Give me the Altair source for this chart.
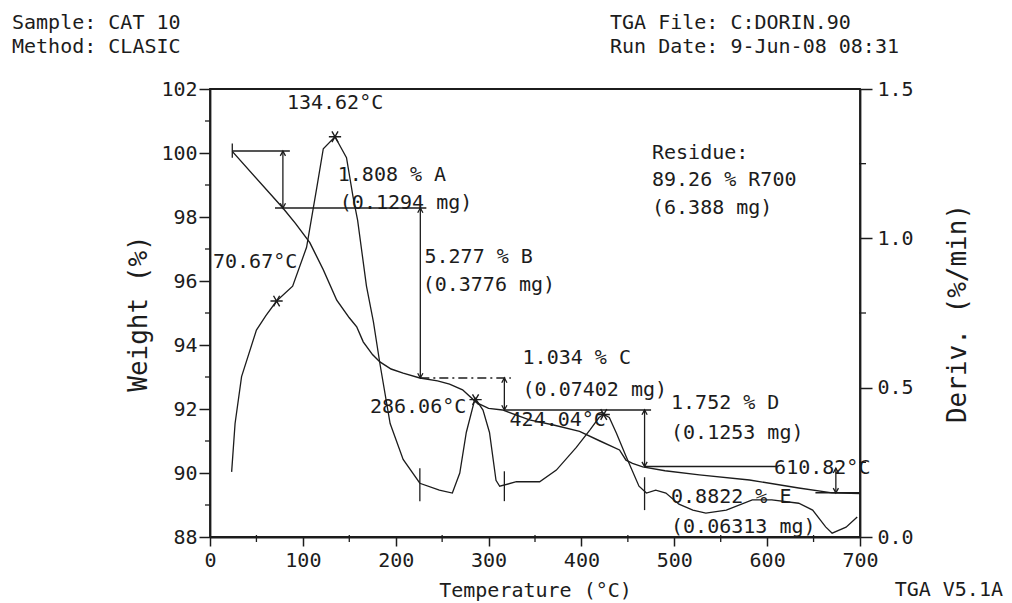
import altair as alt
import pandas as pd

# ---------------- data ----------------
temp_weight = [24, 78.5, 92, 107.5, 122, 136.5, 150, 158, 165, 175,
               183, 195, 208, 226, 245, 258, 272, 287, 300, 315,
               344, 370, 398, 420, 441, 448, 455, 466, 490, 527,
               581, 634, 670, 700]
weight_pct = [100.05, 98.28, 97.8, 97.2, 96.35, 95.4, 94.85, 94.57, 94.1, 93.7,
              93.47, 93.25, 93.12, 92.97, 92.88, 92.78, 92.6, 92.2, 92.02, 91.97,
              91.66, 91.5, 91.3, 91.0, 90.72, 90.4, 90.3, 90.19, 90.07, 89.94,
              89.78, 89.53, 89.38, 89.36]

temp_deriv = [23.3, 27, 34, 50, 60, 71.7, 89, 104, 115, 122,
              134.6, 147, 154, 159, 168.5, 176, 183, 194, 208, 226,
              247, 261, 269, 276, 285.5, 294, 301, 308, 312, 330,
              355, 373, 394.5, 409, 419, 424, 430, 437.6, 448, 462,
              470, 480, 491, 505, 520, 534, 556, 584, 605, 634,
              649, 663, 670, 685, 697]
deriv_val = [0.218, 0.38, 0.537, 0.693, 0.74, 0.79, 0.84, 0.97, 1.17, 1.30,
             1.34, 1.27, 1.14, 1.06, 0.84, 0.72, 0.58, 0.38, 0.26, 0.18,
             0.157, 0.147, 0.214, 0.35, 0.465, 0.425, 0.35, 0.19, 0.17, 0.185,
             0.185, 0.224, 0.30, 0.358, 0.40, 0.41, 0.40, 0.348, 0.27, 0.17,
             0.147, 0.157, 0.147, 0.11, 0.09, 0.08, 0.09, 0.124, 0.124, 0.113,
             0.09, 0.034, 0.013, 0.033, 0.067]

# step-analysis construction lines (weight coordinates)
hline_t1 = [24, 70, 317, 468, 652]
hline_t2 = [86, 233, 475, 609.5, 700]
hline_w = [100.06, 98.28, 91.97, 90.2, 89.38]
dash_t1 = [226.5]
dash_t2 = [324]
dash_w = [92.97]

arrow_t = [78.5, 226.5, 317, 468, 674]
arrow_top = [100.06, 98.28, 92.97, 91.97, 90.15]
arrow_bot = [98.28, 92.97, 91.97, 90.2, 89.38]

# small tick marks
mark_t = [24]
mark_w1 = [100.3]
mark_w2 = [99.85]
dtick_t = [226, 317, 468]
dtick_d1 = [0.12, 0.12, 0.09]
dtick_d2 = [0.23, 0.22, 0.20]

# peak markers on derivative curve
peak_t = [71.7, 134.6, 286, 424]
peak_d = [0.79, 1.34, 0.46, 0.41]

label_text = ["134.62°C", "1.808 % A", "(0.1294 mg)", "70.67°C", "5.277 % B",
              "(0.3776 mg)", "Residue:", "89.26 % R700", "(6.388 mg)",
              "1.034 % C", "(0.07402 mg)", "424.04°C", "1.752 % D",
              "(0.1253 mg)", "610.82°C", "0.8822 % E", "(0.06313 mg)"]
label_t = [82.8, 137.6, 139.8, 3.2, 231, 229, 476, 476, 476,
           336.6, 336.6, 322.6, 496.5, 496.5, 607.5, 496.5, 496.5]
label_w = [101.56, 99.31, 98.44, 96.59, 96.75, 95.875, 100.0, 99.16, 98.28,
           93.59, 92.6, 91.66, 92.19, 91.25, 90.16, 89.25, 88.31]
rlabel_text = ["286.06°C"]
rlabel_t = [276]
rlabel_w = [92.06]

x_ticks = [0, 100, 200, 300, 400, 500, 600, 700]
x_minor = [50, 150, 250, 350, 450, 550, 650]
w_ticks = [88, 90, 92, 94, 96, 98, 100, 102]
w_minor = [89, 91, 93, 95, 97, 99, 101]
d_ticks = [0.0, 0.5, 1.0, 1.5]
d_minor = [0.25, 0.75, 1.25]

# ---------------- styling ----------------
FONT = "DejaVu Sans Mono"
INK = "#1c1c1c"
W, H = 650, 448

xs = alt.Scale(domain=[0, 700], nice=False, zero=False)
yw = alt.Scale(domain=[88, 102], nice=False, zero=False)
yd = alt.Scale(domain=[0, 1.5], nice=False, zero=False)

ARROW_UP = "M-0.55,1L0,0L0.55,1"
ARROW_DN = "M-0.55,-1L0,0L0.55,-1"
STAR = "M-1,0L1,0M-0.5,-0.87L0.5,0.87M-0.5,0.87L0.5,-0.87"

X_AXIS = alt.Axis(values=x_ticks, title="Temperature (°C)", format="d",
                  tickSize=9, labelPadding=4, titlePadding=10, titleFontSize=20,
                  labelFontSize=20)
W_AXIS = alt.Axis(values=w_ticks, title="Weight (%)", format="d",
                  tickSize=11, labelPadding=2, labelFontSize=20,
                  titleFontSize=26, titleAngle=270, titleX=-72, titleY=H / 2,
                  titleAlign="center", titleBaseline="middle")
D_AXIS = alt.Axis(orient="right", values=d_ticks, format=".1f", title="Deriv. (%/min)",
                  tickSize=12, labelPadding=5, labelFontSize=20,
                  titleFontSize=26, titleAngle=270, titleX=97, titleY=H / 2,
                  titleAlign="center", titleBaseline="middle")


def xq(field):
    return alt.X(field, type="quantitative", scale=xs, axis=X_AXIS)


def wq(field):
    return alt.Y(field, type="quantitative", scale=yw, axis=W_AXIS)


def dq(field):
    return alt.Y(field, type="quantitative", scale=yd, axis=D_AXIS)


# ---------------- weight (left axis) layers ----------------
wdf = pd.DataFrame({"T": temp_weight, "W": weight_pct})
weight_line = alt.Chart(wdf).mark_line(color=INK, strokeWidth=1.4).encode(
    x=xq("T"), y=wq("W"))

hdf = pd.DataFrame({"T": hline_t1, "T2": hline_t2, "W": hline_w})
hlines = alt.Chart(hdf).mark_rule(color=INK, strokeWidth=1.5).encode(
    x=xq("T"), x2="T2:Q", y=wq("W"))

ddash = pd.DataFrame({"T": dash_t1, "T2": dash_t2, "W": dash_w})
dlines = alt.Chart(ddash).mark_rule(color=INK, strokeWidth=1.5, strokeDash=[9, 4, 2, 4]).encode(
    x=xq("T"), x2="T2:Q", y=wq("W"))

adf = pd.DataFrame({"T": arrow_t, "W": arrow_top, "W2": arrow_bot})
arrows = alt.Chart(adf).mark_rule(color=INK, strokeWidth=1.3).encode(
    x=xq("T"), y=wq("W"), y2="W2:Q")
heads_up = alt.Chart(adf).mark_point(shape=ARROW_UP, size=90, color=INK, strokeWidth=1.3, opacity=1).encode(
    x=xq("T"), y=wq("W"))
adf2 = pd.DataFrame({"T": arrow_t, "W": arrow_bot})
heads_dn = alt.Chart(adf2).mark_point(shape=ARROW_DN, size=90, color=INK, strokeWidth=1.3, opacity=1).encode(
    x=xq("T"), y=wq("W"))

mdf = pd.DataFrame({"T": mark_t, "W": mark_w1, "W2": mark_w2})
start_mark = alt.Chart(mdf).mark_rule(color=INK, strokeWidth=1.3).encode(
    x=xq("T"), y=wq("W"), y2="W2:Q")

ldf = pd.DataFrame({"txt": label_text, "T": label_t, "W": label_w})
labels = alt.Chart(ldf).mark_text(align="left", baseline="middle", font=FONT,
                                  fontSize=20, color=INK).encode(
    x=xq("T"), y=wq("W"), text="txt:N")
rdf = pd.DataFrame({"txt": rlabel_text, "T": rlabel_t, "W": rlabel_w})
rlabels = alt.Chart(rdf).mark_text(align="right", baseline="middle", font=FONT,
                                   fontSize=20, color=INK).encode(
    x=xq("T"), y=wq("W"), text="txt:N")

xm = pd.DataFrame({"T": x_minor})
x_minor_ticks = alt.Chart(xm).mark_rule(color=INK, strokeWidth=1.3).encode(
    x=xq("T"), y=alt.value(H - 2), y2=alt.value(H + 5))
wm = pd.DataFrame({"W": w_minor})
w_minor_ticks = alt.Chart(wm).mark_rule(color=INK, strokeWidth=1.3).encode(
    y=wq("W"), x=alt.value(-5), x2=alt.value(1))


def header(txt, px, py, align="left"):
    return alt.Chart(pd.DataFrame({"txt": [txt]})).mark_text(
        align=align, baseline="middle", font=FONT, fontSize=20, color=INK).encode(
        x=alt.value(px), y=alt.value(py), text="txt:N")


headers = [
    header("Sample: CAT 10", -198, -66),
    header("Method: CLASIC", -198, -42),
    header("TGA File: C:DORIN.90", 400, -66),
    header("Run Date: 9-Jun-08  08:31", 400, -42),
    header("TGA V5.1A", 793, 501, "right"),
]

left = alt.layer(weight_line, hlines, dlines, arrows, heads_up, heads_dn, start_mark,
                 labels, rlabels, x_minor_ticks, w_minor_ticks, *headers)

# ---------------- derivative (right axis) layers ----------------
ddf = pd.DataFrame({"T": temp_deriv, "D": deriv_val})
deriv_line = alt.Chart(ddf).mark_line(color=INK, strokeWidth=1.3).encode(
    x=xq("T"), y=dq("D"))
pdf = pd.DataFrame({"T": peak_t, "D": peak_d})
peaks = alt.Chart(pdf).mark_point(shape=STAR, size=150, color=INK, strokeWidth=1.4, opacity=1).encode(
    x=xq("T"), y=dq("D"))
dt = pd.DataFrame({"T": dtick_t, "D": dtick_d1, "D2": dtick_d2})
dticks = alt.Chart(dt).mark_rule(color=INK, strokeWidth=1.3).encode(
    x=xq("T"), y=dq("D"), y2="D2:Q")
dm = pd.DataFrame({"D": d_minor})
d_minor_ticks = alt.Chart(dm).mark_rule(color=INK, strokeWidth=1.3).encode(
    y=dq("D"), x=alt.value(W - 1), x2=alt.value(W + 6))

right = alt.layer(deriv_line, peaks, dticks, d_minor_ticks)

chart = alt.layer(left, right).resolve_scale(y="independent").properties(
    width=W, height=H,
    padding={"left": 210, "top": 89, "right": 152, "bottom": 66},
    autosize=alt.AutoSizeParams(type="none"),
    background="white",
).configure_view(
    stroke=INK, strokeWidth=1.8
).configure_axis(
    grid=False, domainColor=INK, domainWidth=1.8, tickColor=INK, tickWidth=1.5,
    labelColor=INK, titleColor=INK, labelFont=FONT, titleFont=FONT,
    titleFontWeight="normal", labelOverlap=False, labelFlush=False,
)

chart.save("out.html", embed_options={"renderer": "svg", "actions": False})
